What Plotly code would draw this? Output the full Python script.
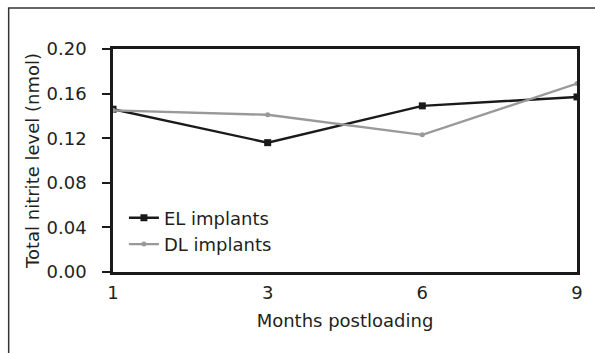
import plotly.graph_objects as go

months = ["1", "3", "6", "9"]
el_values = [0.146, 0.116, 0.149, 0.157]
dl_values = [0.145, 0.141, 0.123, 0.169]
y_ticks = [0.00, 0.04, 0.08, 0.12, 0.16, 0.20]

FONT = "DejaVu Sans"
TXT = "#231f20"

fig = go.Figure()
fig.add_trace(go.Scatter(
    x=months, y=el_values, name="EL implants", mode="lines+markers",
    line=dict(color="#1a1a1a", width=2.4),
    marker=dict(symbol="square", size=7, color="#1a1a1a"),
))
fig.add_trace(go.Scatter(
    x=months, y=dl_values, name="DL implants", mode="lines+markers",
    line=dict(color="#999999", width=2.4),
    marker=dict(symbol="circle", size=5, color="#999999"),
))

W, H = 595, 353
L, R, T, B = 113, 15, 49, 81
pw, ph = W - L - R, H - T - B

fig.update_layout(
    width=W, height=H,
    margin=dict(l=L, r=R, t=T, b=B),
    paper_bgcolor="white", plot_bgcolor="white",
    font=dict(family=FONT, size=18, color=TXT),
    showlegend=True,
    legend=dict(
        x=(124 - L) / pw, y=(T + ph - 231) / ph, xanchor="left", yanchor="middle",
        bgcolor="rgba(0,0,0,0)", font=dict(size=18, family=FONT, color=TXT),
        tracegroupgap=0, itemwidth=30,
    ),
    xaxis=dict(
        type="category", range=[0, 3],
        showline=True, linecolor="#1a1a1a", linewidth=2.6, mirror=True,
        ticks="", showgrid=False, zeroline=False,
        tickfont=dict(size=18), ticklabelstandoff=3,
        title=dict(text="Months postloading", font=dict(size=18), standoff=12),
    ),
    yaxis=dict(
        range=[0, 0.2], tickvals=y_ticks, tickformat=".2f",
        showline=True, linecolor="#1a1a1a", linewidth=2.6, mirror=True,
        ticks="outside", ticklen=8, tickwidth=2, tickcolor="#1a1a1a",
        showgrid=False, zeroline=False,
        tickfont=dict(size=18), ticklabelstandoff=12,
        title=dict(text="Total nitrite level (nmol)", font=dict(size=18), standoff=3),
    ),
)

# outer frame (left and top visible, extends beyond the page on right/bottom)
fig.add_shape(
    type="rect", xref="paper", yref="paper",
    x0=(8 - L) / pw, x1=(600 - L) / pw,
    y0=1 - (360 - T) / ph, y1=1 + (T - 8) / ph,
    line=dict(color="#333333", width=1.5), layer="below",
)

fig.write_html("out.html", config={"displayModeBar": False},
               post_script="document.body.style.margin='0';")
